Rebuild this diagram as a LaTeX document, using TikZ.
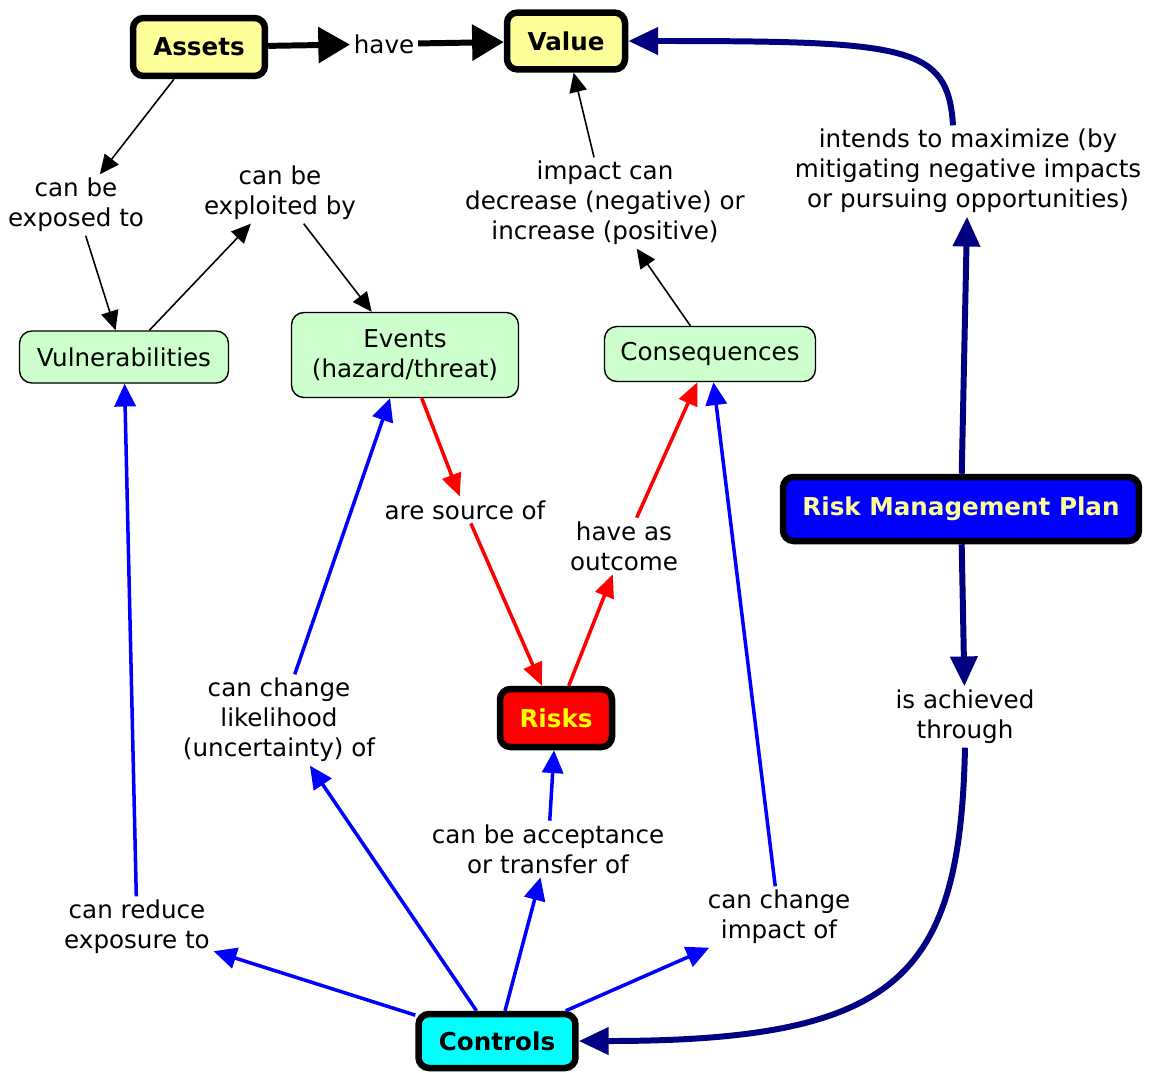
\documentclass[tikz,border=0pt]{standalone}
\usepackage{fontspec}
\setmainfont{DejaVu Sans}
\usetikzlibrary{arrows.meta}
\definecolor{paleyellow}{RGB}{255,255,153}
\definecolor{palegreen}{RGB}{204,255,204}
\definecolor{navyblue}{RGB}{0,0,128}
\definecolor{riskyellow}{RGB}{255,255,0}
\definecolor{controlcyan}{RGB}{0,255,255}

\begin{document}
\begin{tikzpicture}[x=0.02cm, y=-0.02cm,
    every node/.style={font=\fontsize{14}{17}\selectfont},
    keynode/.style={draw, line width=3.7pt, rounded corners=6pt, font=\fontsize{14}{17}\selectfont\bfseries},
    concept/.style={draw, line width=0.8pt, fill=palegreen, rounded corners=7pt, align=center},
    phrase/.style={align=center, inner sep=2pt},
    thinarrow/.style={-{Triangle[length=11pt, width=10pt]}, line width=0.9pt},
    boldarrow/.style={-{Triangle[length=18pt, width=20pt]}, line width=3.4pt},
    bluearrow/.style={-{Triangle[length=13pt, width=12pt]}, blue, line width=2pt},
    redarrow/.style={-{Triangle[length=13pt, width=11pt]}, red, line width=2pt},
    navyarrow/.style={-{Triangle[length=17pt, width=15pt]}, navyblue, line width=3.4pt}]

    \useasboundingbox (0,0) rectangle (1151,1072);

    % Key concepts
    \node[keynode, fill=paleyellow, minimum width=2.64cm, minimum height=1.16cm] (assets) at (199,47) {Assets};
    \node[keynode, fill=paleyellow, minimum width=2.36cm, minimum height=1.14cm] (value) at (566,41) {Value};
    \node[keynode, fill=red, text=riskyellow, minimum width=2.24cm, minimum height=1.16cm] (risks) at (556,718) {Risks};
    \node[keynode, fill=blue, text=paleyellow, minimum width=7.12cm, minimum height=1.28cm] (rmp) at (961,509) {Risk Management Plan};
    \node[keynode, fill=controlcyan, minimum width=3.14cm, minimum height=1.08cm] (controls) at (497,1041) {Controls};

    % Concepts
    \node[concept, minimum width=4.18cm, minimum height=1.04cm] (vul) at (124,357) {Vulnerabilities};
    \node[concept, minimum width=4.54cm, minimum height=1.7cm] (events) at (405,355) {Events\\(hazard/threat)};
    \node[concept, minimum width=4.22cm, minimum height=1.1cm] (cons) at (710,354) {Consequences};

    % Linking phrases
    \node[phrase] (have) at (384,44) {have};
    \node[phrase] (exposed) at (76,205) {can be\\exposed to};
    \node[phrase] (exploited) at (280,193) {can be\\exploited by};
    \node[phrase] (impact) at (605,203) {impact can\\decrease (negative) or\\increase (positive)};
    \node[phrase] (maximize) at (968,171) {intends to maximize (by\\mitigating negative impacts\\or pursuing opportunities)};
    \node[phrase] (source) at (465,510) {are source of};
    \node[phrase] (outcome) at (624,546) {have as\\outcome};
    \node[phrase] (likelihood) at (279,720) {can change\\likelihood\\(uncertainty) of};
    \node[phrase] (achieved) at (965,717) {is achieved\\through};
    \node[phrase] (accept) at (548,849) {can be acceptance\\or transfer of};
    \node[phrase] (reduce) at (137,927) {can reduce\\exposure to};
    \node[phrase] (changeimpact) at (779,917) {can change\\impact of};

    % Assets and value
    \draw[boldarrow] (assets) -- (have);
    \draw[boldarrow] (have) -- (value);
    \draw[thinarrow] (assets) -- (exposed);
    \draw[thinarrow] (exposed) -- (vul);
    \draw[thinarrow] (vul) -- (exploited);
    \draw[thinarrow] (exploited) -- (events);
    \draw[thinarrow] (cons) -- (impact);
    \draw[thinarrow] (impact) -- (value);

    % Risks
    \draw[redarrow] (events) -- (source);
    \draw[redarrow] (source) -- (risks);
    \draw[redarrow] (risks) -- (outcome);
    \draw[redarrow] (outcome) -- (cons);

    % Controls
    \draw[bluearrow] (controls) -- (reduce);
    \draw[bluearrow] (reduce) -- (vul);
    \draw[bluearrow] (controls) -- (likelihood);
    \draw[bluearrow] (likelihood) -- (events);
    \draw[bluearrow] (controls) -- (accept);
    \draw[bluearrow] (accept) -- (risks);
    \draw[bluearrow] (controls) -- (changeimpact);
    \draw[bluearrow] (changeimpact) -- (cons);

    % Plan
    \draw[navyarrow] (rmp) -- (maximize);
    \draw[navyarrow] ([xshift=-0.3cm]maximize.north) .. controls +(-5,-80) and +(280,0) .. (value.east);
    \draw[navyarrow] (rmp) -- (achieved);
    \draw[navyarrow] (achieved.south) .. controls +(-5,230) and +(320,0) .. (controls.east);
\end{tikzpicture}
\end{document}
